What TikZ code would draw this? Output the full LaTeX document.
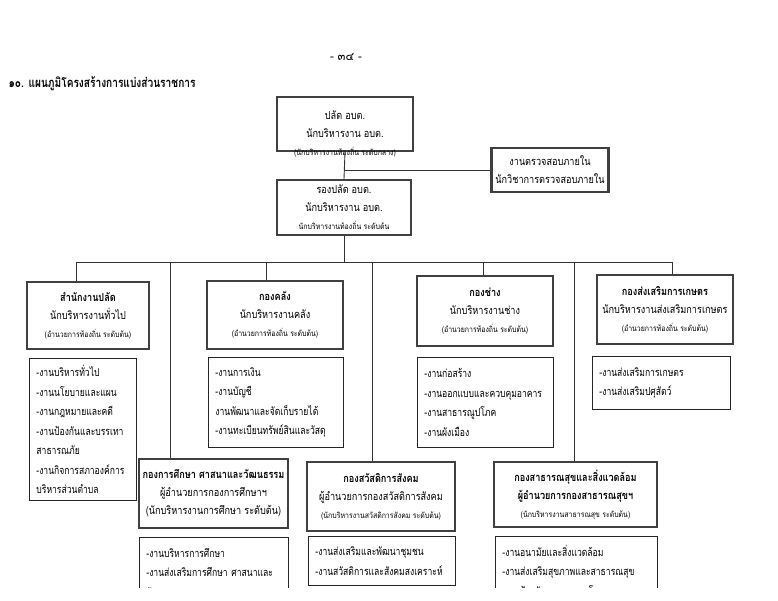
\documentclass[tikz,border=0pt]{standalone}
\usepackage{fontspec}
\newfontfamily\thai[Script=Thai]{Loma}
\newfontfamily\thaihead[Script=Thai, FakeStretch=0.83]{Loma}
\newfontfamily\thaijob[Script=Thai, FakeStretch=0.78]{Loma}
\newfontfamily\thaismall[Script=Thai, FakeStretch=0.87]{Loma}
\newcommand\jobfont{\thaijob\fontsize{11}{19.5}\selectfont\exhyphenpenalty=10000\relax\hbadness=10000\relax}
\newcommand\levelfont{\thaismall\fontsize{8}{9}\selectfont}
\usepackage{tikz}
\usetikzlibrary{positioning,calc}

\begin{document}
\begin{tikzpicture}[x=1pt, y=-1pt,
  headbox/.style={draw=black!75, line width=2.2pt, align=center, inner sep=2pt,
    font=\thaihead\fontsize{11}{18}\selectfont},
  jobbox/.style={draw=black!85, line width=0.9pt, align=left, anchor=north west,
    inner xsep=7pt, inner ysep=2pt, font=\jobfont},
  link/.style={draw=black!80, line width=0.9pt},
  level/.style={font=\levelfont}]
\useasboundingbox (0,0) rectangle (778,600);
\clip (0,0) rectangle (778,587);

\node[font=\thai\fontsize{11.5}{13}\selectfont] (pageno) at (346,57) {- ๓๔ -};
\node[anchor=west, font=\thaijob\bfseries\fontsize{13}{15}\selectfont] (title) at (5,84)
  {๑๐. แผนภูมิโครงสร้างการแบ่งส่วนราชการ};

% top
\node[headbox, minimum width=136, minimum height=54] (palat) at (345,124)
  {ปลัด อบต.\\นักบริหารงาน อบต.};
\node[level] (palatlevel) at (palat.south) {(นักบริหารงานท้องถิ่น ระดับกลาง)};
\node[headbox, minimum width=117, minimum height=44] (audit) at (550,170)
  {งานตรวจสอบภายใน\\นักวิชาการตรวจสอบภายใน};
\node[headbox, minimum width=134, minimum height=55] (rong) at (344,207.5)
  {รองปลัด อบต.\\นักบริหารงาน อบต.\\{\levelfont นักบริหารงานท้องถิ่น ระดับต้น}};

% divisions
\node[headbox, minimum width=122, minimum height=67] (samnak) at (88,315.5)
  {\textbf{สำนักงานปลัด}\\นักบริหารงานทั่วไป\\{\levelfont (อำนวยการท้องถิ่น ระดับต้น)}};
\node[headbox, minimum width=136, minimum height=68] (klang) at (275,315)
  {\textbf{กองคลัง}\\นักบริหารงานคลัง\\{\levelfont (อำนวยการท้องถิ่น ระดับต้น)}};
\node[headbox, minimum width=136, minimum height=70] (chang) at (485,311)
  {\textbf{กองช่าง}\\นักบริหารงานช่าง\\{\levelfont (อำนวยการท้องถิ่น ระดับต้น)}};
\node[headbox, minimum width=136, minimum height=69] (kaset) at (665,309.5)
  {\textbf{กองส่งเสริมการเกษตร}\\นักบริหารงานส่งเสริมการเกษตร\\{\levelfont (อำนวยการท้องถิ่น ระดับต้น)}};
\node[headbox, minimum width=149, minimum height=69] (suksa) at (213.5,493.5)
  {\textbf{กองการศึกษา ศาสนาและวัฒนธรรม}\\ผู้อำนวยการกองการศึกษาฯ\\(นักบริหารงานการศึกษา ระดับต้น)};
\node[headbox, minimum width=148, minimum height=69] (sawat) at (381,496.5)
  {\textbf{กองสวัสดิการสังคม}\\ผู้อำนวยการกองสวัสดิการสังคม\\{\levelfont (นักบริหารงานสวัสดิการสังคม ระดับต้น)}};
\node[headbox, minimum width=163, minimum height=65] (satha) at (575.5,494.5)
  {\textbf{กองสาธารณสุขและสิ่งแวดล้อม}\\\textbf{ผู้อำนวยการกองสาธารณสุขฯ}\\{\levelfont (นักบริหารงานสาธารณสุข ระดับต้น)}};

% tasks
\node[jobbox, text width=93, minimum height=142] (samnakjob) at (29,358)
  {-งานบริหารทั่วไป\\-งานนโยบายและแผน\\-งานกฎหมายและคดี\\-งานป้องกันและบรรเทา\\สาธารณภัย\\-งานกิจการสภาองค์การ\\บริหารส่วนตำบล};
\node[jobbox, text width=121, minimum height=90] (klangjob) at (208,357)
  {-งานการเงิน\\-งานบัญชี\\งานพัฒนาและจัดเก็บรายได้\\-งานทะเบียนทรัพย์สินและวัสดุ};
\node[jobbox, text width=122, minimum height=90] (changjob) at (417,357)
  {-งานก่อสร้าง\\-งานออกแบบและควบคุมอาคาร\\-งานสาธารณูปโภค\\-งานผังเมือง};
\node[jobbox, text width=124, minimum height=53] (kasetjob) at (592,356)
  {-งานส่งเสริมการเกษตร\\-งานส่งเสริมปศุสัตว์};
\node[jobbox, text width=135, minimum height=70] (suksajob) at (139,537)
  {-งานบริหารการศึกษา\\-งานส่งเสริมการศึกษา~ศาสนาและ\\วัฒนธรรม};
\node[jobbox, text width=133, minimum height=49] (sawatjob) at (308,536)
  {-งานส่งเสริมและพัฒนาชุมชน\\-งานสวัสดิการและสังคมสงเคราะห์};
\node[jobbox, text width=148, minimum height=70] (sathajob) at (495,536)
  {-งานอนามัยและสิ่งแวดล้อม\\-งานส่งเสริมสุขภาพและสาธารณสุข\\-งานป้องกันและควบคุมโรค};

% lines
\draw[link] (palat.south) -- (rong.north);
\draw[link] (palat.south |- audit.west) -- (audit.west);
\coordinate (busL) at (76,262);
\coordinate (busR) at (672,262);
\draw[link] (rong.south) -- (rong.south |- busL);
\draw[link] (busL) -- (busR);
\foreach \x/\n in {76/samnak, 266/klang, 483/chang, 672/kaset, 170/suksa, 372/sawat, 574/satha}{
  \coordinate (b\n) at (\x,262);
  \draw[link] (b\n) -- (b\n |- \n.north);
}
\end{tikzpicture}
\end{document}
